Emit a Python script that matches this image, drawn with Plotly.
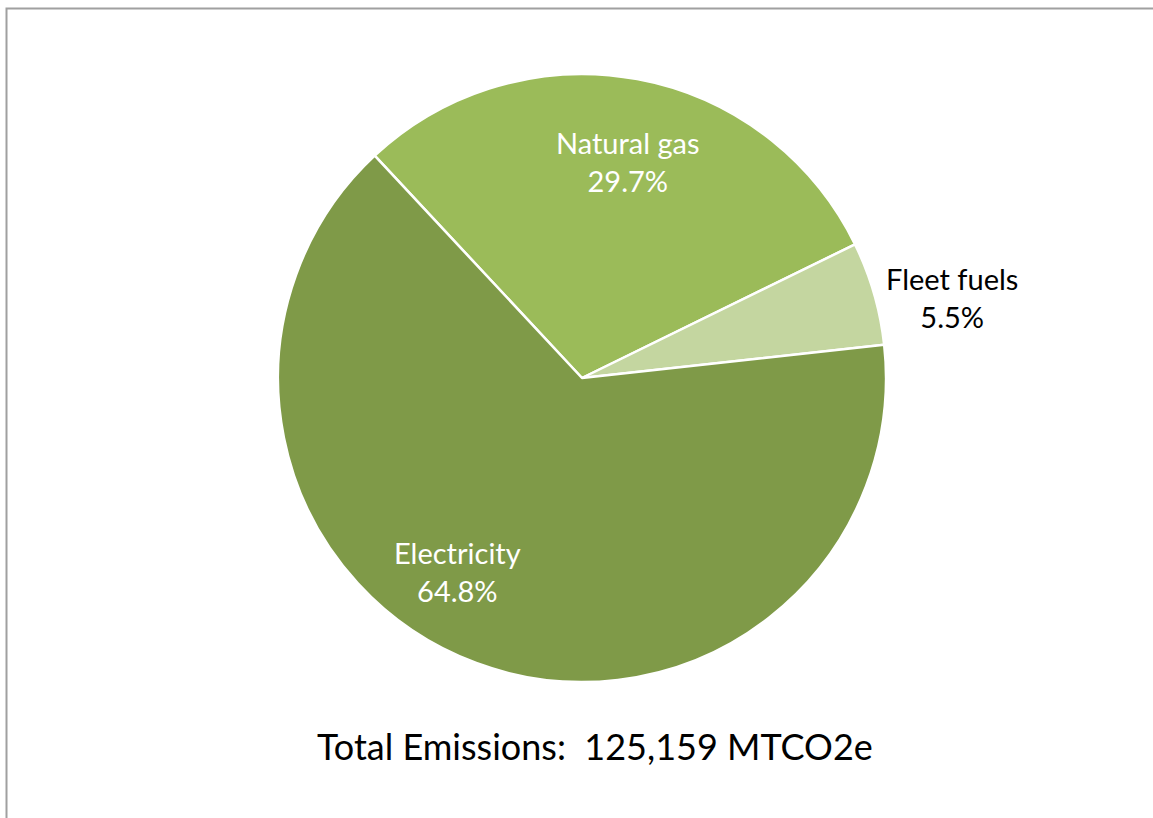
import plotly.graph_objects as go

# Emission sources and their shares of the total (%)
sources = ["Natural gas", "Fleet fuels", "Electricity"]
shares = [29.7, 5.5, 64.8]
total_mtco2e = 125159

colors = ["#9BBB59", "#C4D6A0", "#7F9A48"]

W, H = 1153, 818

def px(x):
    return x / W

def py(y):
    return 1 - y / H

cx, cy, r = 582, 378, 304

fig = go.Figure(
    go.Pie(
        labels=sources,
        values=shares,
        sort=False,
        direction="clockwise",
        rotation=-43,
        marker=dict(colors=colors, line=dict(color="white", width=2.5)),
        textinfo="none",
        hoverinfo="label+percent",
        showlegend=False,
        domain=dict(x=[px(cx - r), px(cx + r)], y=[py(cy + r), py(cy - r)]),
    )
)

font_family = "Lato, 'Open Sans', sans-serif"

# Slice labels: name on one line, share below
label_pos = {
    "Natural gas": (628, 162, "white"),
    "Fleet fuels": (952, 297, "black"),
    "Electricity": (457, 571, "white"),
}
for name, val in zip(sources, shares):
    x, y, c = label_pos[name]
    fig.add_annotation(
        x=px(x), y=py(y), xref="paper", yref="paper",
        text=f"{name}<br>{val:.1f}%",
        showarrow=False, xanchor="center", yanchor="middle",
        font=dict(family=font_family, size=29, color=c),
        align="center",
    )

fig.add_annotation(
    x=px(595), y=py(746), xref="paper", yref="paper",
    text=f"Total Emissions:&nbsp;&nbsp;{total_mtco2e:,} MTCO2e",
    showarrow=False, xanchor="center", yanchor="middle",
    font=dict(family=font_family, size=36, color="black"),
)

# Chart-area frame
fig.add_shape(
    type="rect", xref="paper", yref="paper",
    x0=px(6.5), y0=py(830), x1=px(1170), y1=py(8.5),
    line=dict(color="#A0A0A0", width=2), fillcolor="rgba(0,0,0,0)",
)

fig.update_layout(
    width=W, height=H,
    margin=dict(l=0, r=0, t=0, b=0),
    paper_bgcolor="white",
    plot_bgcolor="white",
)

fig.write_html("out.html")
